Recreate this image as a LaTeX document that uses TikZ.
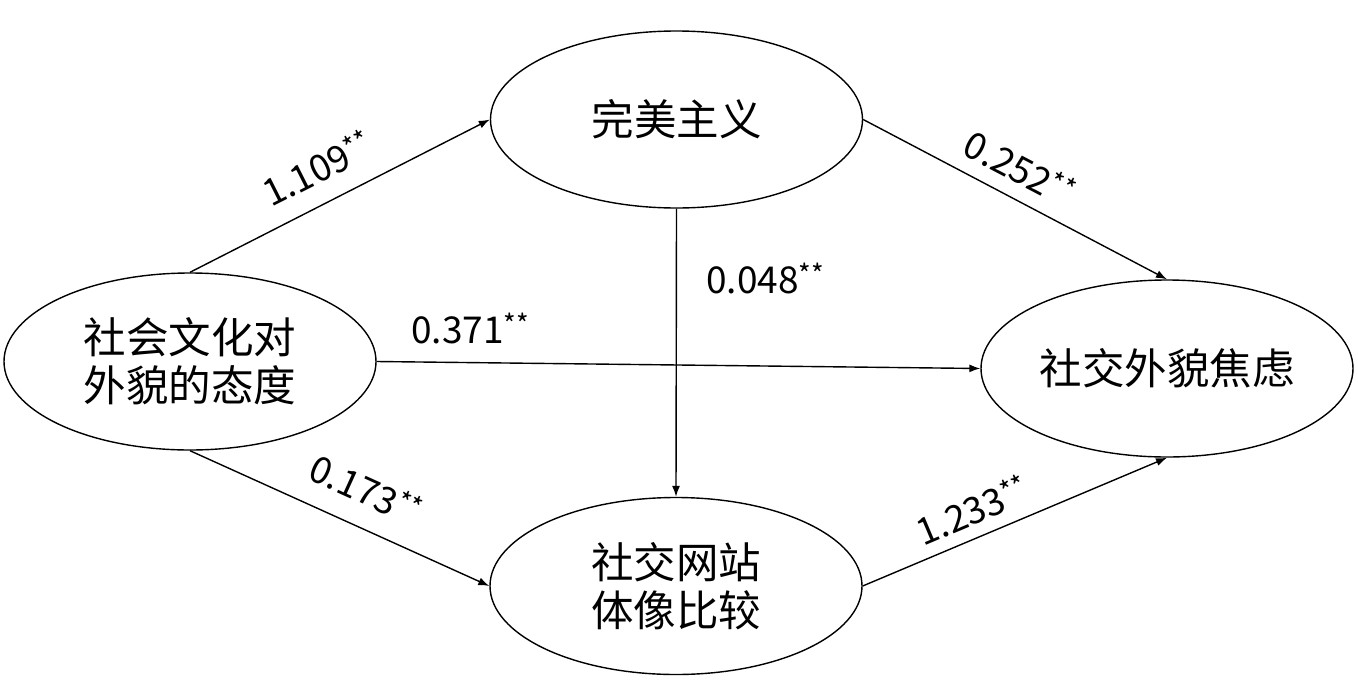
\documentclass[tikz,border=0pt]{standalone}
\usepackage{fontspec}
\setmainfont{Noto Sans CJK SC}
\usetikzlibrary{shapes.geometric,arrows.meta}
\newcommand\sigmark{\raisebox{9pt}{\fontsize{27pt}{27pt}\selectfont **}}
\begin{document}
\begin{tikzpicture}[x=1pt,y=-1pt,
  latent/.style={draw,line width=1.4pt,ellipse,minimum width=372pt,minimum height=177pt,inner sep=0pt,
    align=center,font=\fontsize{42.5pt}{48pt}\selectfont},
  path/.style={line width=1.4pt,-{Latex[length=11pt,width=8pt]}},
  coef/.style={inner sep=0pt,font=\fontsize{37pt}{37pt}\selectfont}]
\useasboundingbox (0,0) rectangle (1358,686);
\node[latent] (att) at (190,361.5) {社会文化对\\外貌的态度};
\node[latent] (per) at (676.5,119.5) {完美主义};
\node[latent] (cmp) at (676,586) {社交网站\\体像比较};
\node[latent] (anx) at (1167,368.5) {社交外貌焦虑};
\draw[path] (att.north) -- (per.west);
\draw[path] (att.south) -- (cmp.west);
\draw[path] (att.east) -- (anx.west);
\draw[path] (per.east) -- (anx.north);
\draw[path] (cmp.east) -- (anx.south);
\draw[path] (per.south) -- (cmp.north);
\node[coef,rotate=26.8] (l1) at (317,168) {1.109\sigmark};
\node[coef,rotate=-27.7] (l2) at (1020,168) {0.252\sigmark};
\node[coef] (l3) at (765,278) {0.048\sigmark};
\node[coef] (l4) at (470,328) {0.371\sigmark};
\node[coef,rotate=-24.4] (l5) at (366,489) {0.173\sigmark};
\node[coef,rotate=22.9] (l6) at (972,510) {1.233\sigmark};
\end{tikzpicture}
\end{document}
